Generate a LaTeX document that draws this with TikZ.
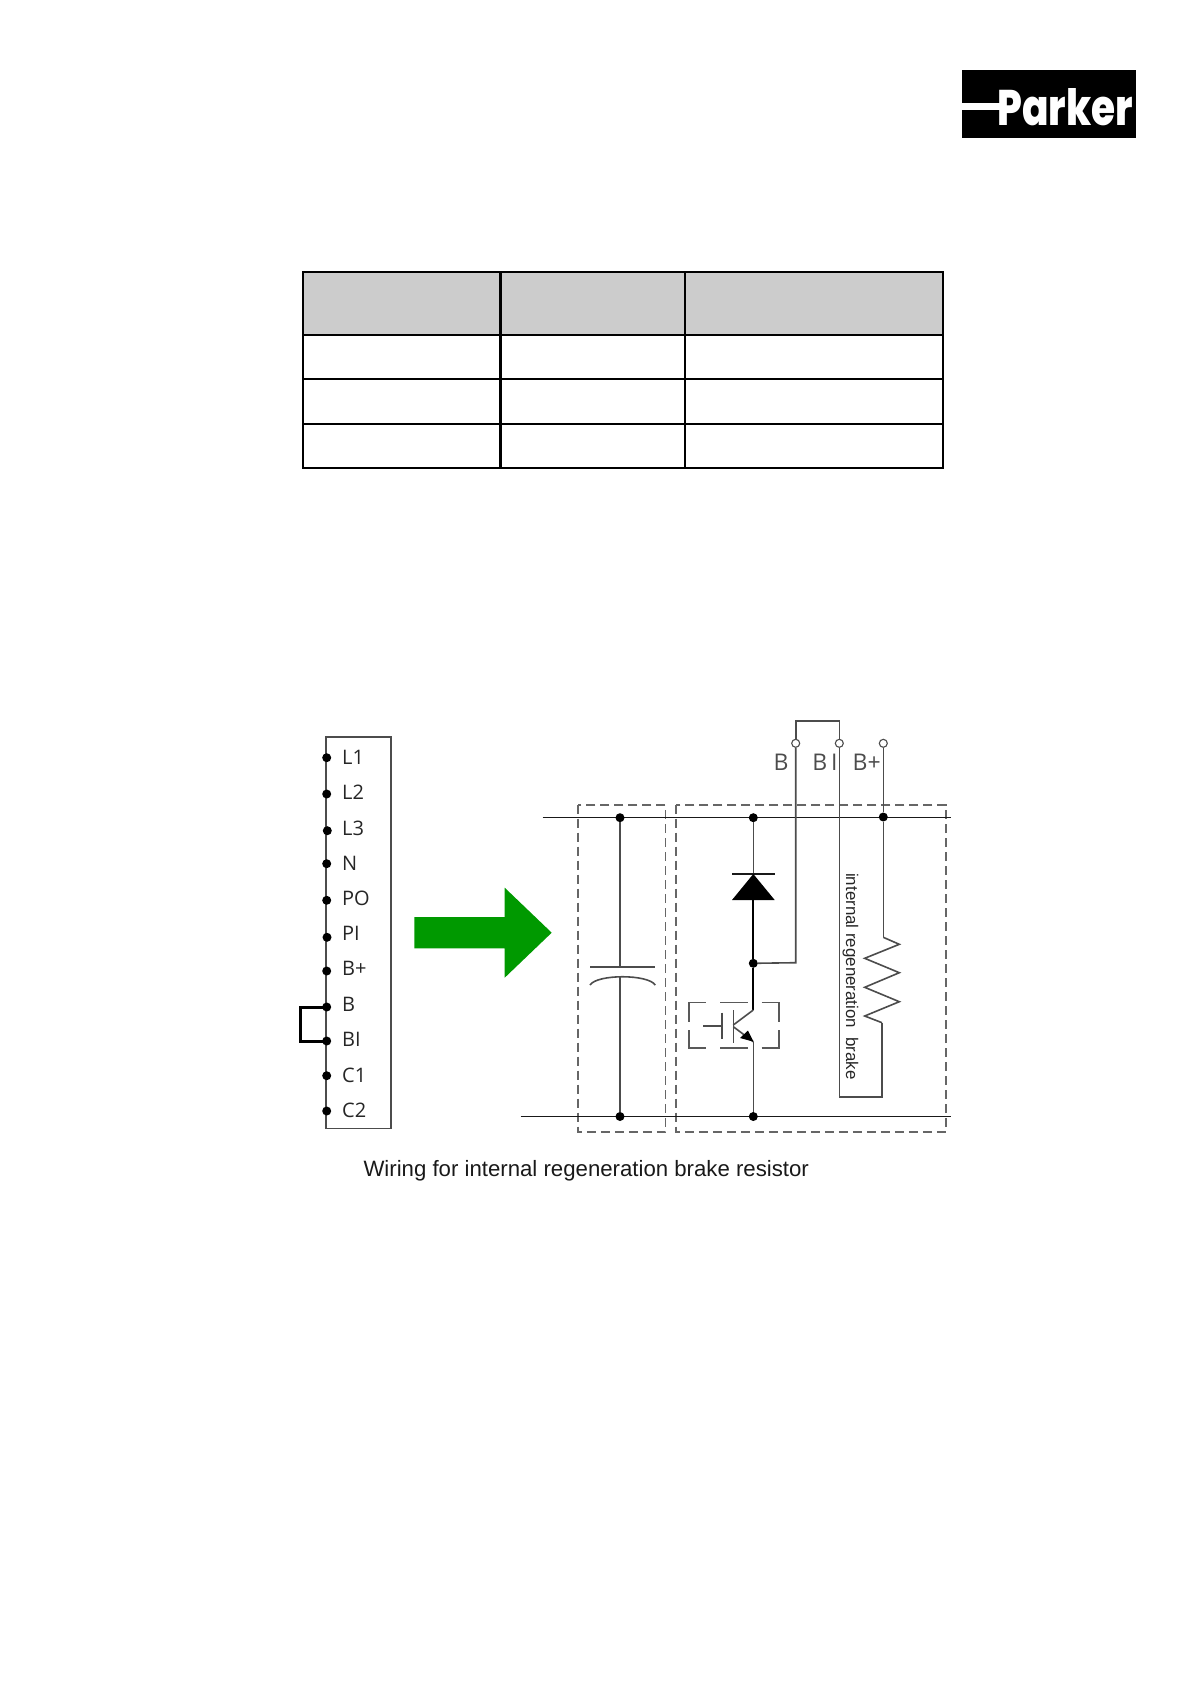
\documentclass[tikz,border=0pt]{standalone}
\usepackage{fontspec}
\setmainfont{Liberation Sans}
\newfontfamily\termfont{Open Sans}
\newfontfamily\logofont{Poppins}[UprightFont=* ExtraBold]
\usetikzlibrary{arrows.meta}

\begin{document}
\begin{tikzpicture}
[x=1pt,y=-1pt,%
  wire/.style={draw=black!90,line width=1.2pt},%
  graywire/.style={draw=black!70,line width=1.6pt},%
  heavywire/.style={draw=black,line width=2pt},%
  dashbox/.style={draw=black!60,line width=1.6pt,dash pattern=on 9pt off 5pt},%
  igbtbox/.style={draw=black!65,line width=1.4pt},%
  cellrule/.style={draw=black,line width=2.2pt},%
  dot/.style={shape=circle,fill=black,inner sep=0pt,minimum size=9pt},%
  opendot/.style={shape=circle,draw=black!70,fill=white,line width=1.1pt,inner sep=0pt,minimum size=8pt},%
  termlabel/.style={anchor=west,inner sep=0pt,text=black!85,font=\termfont\fontsize{20}{20}\selectfont},%
  pinlabel/.style={inner sep=0pt,text=black!70,font=\termfont\fontsize{23}{23}\selectfont}]
\useasboundingbox (0,0) rectangle (1191,1684);

% logo
\fill[black] (961.7,70) rectangle (1135.7,137.7);
\fill[white] (961.7,102.7) rectangle (1005,110);
\node (logotext) at (1065,107) [inner sep=0pt,text=white]
  {\scalebox{.78}[1]{\logofont\fontsize{50}{50}\selectfont Parker}};

% table
\fill[black!20] (302.7,272) rectangle (943,335);
\draw[cellrule] (302.7,272) rectangle (943,468);
\draw[cellrule] (302.7,335) -- (943,335);
\draw[cellrule] (302.7,379) -- (943,379);
\draw[cellrule] (302.7,424) -- (943,424);
\draw[cellrule] (500.5,272) -- (500.5,468);
\draw[cellrule] (684.6,272) -- (684.6,468);

% terminal strip
\draw[graywire] (326.2,736.7) rectangle (391,1128.3);
\node[dot] (L1) at (326.7,757.7) {};
\node[dot] (L2) at (326.7,794) {};
\node[dot] (L3) at (327.3,830.7) {};
\node[dot] (N) at (326.7,863.7) {};
\node[dot] (PO) at (326.7,900.3) {};
\node[dot] (PI) at (327,937.3) {};
\node[dot] (Bp) at (326.7,971) {};
\node[dot] (B) at (326.7,1007) {};
\node[dot] (BI) at (326.7,1041) {};
\node[dot] (C1) at (326.7,1075.7) {};
\node[dot] (C2) at (326.7,1111) {};
\node[termlabel] (tL1) at (342,757) {L1};
\node[termlabel] (tL2) at (342,792.5) {L2};
\node[termlabel] (tL3) at (342,828) {L3};
\node[termlabel] (tN) at (342,863) {N};
\node[termlabel] (tPO) at (342,898) {PO};
\node[termlabel] (tPI) at (342,933.5) {PI};
\node[termlabel] (tBp) at (342,968.5) {B+};
\node[termlabel] (tB) at (342,1004) {B};
\node[termlabel] (tBI) at (342,1039) {BI};
\node[termlabel] (tC1) at (342,1075) {C1};
\node[termlabel] (tC2) at (342,1110) {C2};
\draw[heavywire,line width=3pt] (B.center) -- (300.7,1007) -- (300.7,1041) -- (BI.center);

% green arrow
\fill[green!60!black] (414.3,917) -- (504.7,917) -- (504.7,887.7) -- (551.7,932.7)
  -- (504.7,977.7) -- (504.7,948.3) -- (414.3,948.3) -- cycle;

% dashed groups
\draw[dashbox] (578.2,804.7) rectangle (665.5,1132);
\draw[dashbox] (676.2,804.7) rectangle (946,1132);

% rails
\coordinate (topl) at (542.7,817.7);
\coordinate (topr) at (950.7,817.7);
\coordinate (botl) at (520.7,1116.3);
\coordinate (botr) at (950.7,1116.3);
\draw[wire] (topl) -- (topr);
\draw[wire] (botl) -- (botr);
\node[dot] (captop) at (620,817.7) {};
\node[dot] (capbot) at (620,1116.5) {};
\node[dot] (dtop) at (753.3,817.7) {};
\node[dot] (dbot) at (753.3,1116.5) {};
\node[dot] (dmid) at (753.3,963.3) {};
\node[dot] (rtop) at (883.3,817) {};

% capacitor
\coordinate (plate) at (620,967);
\coordinate (platec) at (620,976.7);
\draw[graywire] (captop) -- (plate);
\draw[graywire] (platec) -- (capbot);
\draw[graywire] (590,967) -- (655.3,967);
\draw[graywire] (590,985) .. controls (597,974) and (648,974) .. (655.3,985);

% diode
\coordinate (dbar) at (753.3,874);
\coordinate (dbase) at (753.3,900);
\draw[graywire] (dtop) -- (dbar);
\draw[wire] (732,874) -- (774.7,874);
\fill[black] (732,900) -- (753.3,874) -- (774.7,900) -- cycle;
\draw[heavywire] (dbase) -- (dmid);

% igbt
\coordinate (coll) at (753.3,1010);
\coordinate (emit) at (753.3,1041.7);
\draw[igbtbox] (689,1021.7) -- (689,1002.3) -- (706,1002.3);
\draw[igbtbox] (720,1002.3) -- (748,1002.3);
\draw[igbtbox] (761.7,1002.3) -- (779,1002.3) -- (779,1021.7);
\draw[igbtbox] (689,1030) -- (689,1048) -- (706,1048);
\draw[igbtbox] (720,1048) -- (748,1048);
\draw[igbtbox] (761.7,1048) -- (779,1048) -- (779,1030);
\draw[heavywire] (dmid) -- (coll);
\draw[graywire] (703.3,1025.7) -- (721.7,1025.7);
\draw[graywire] (721.7,1012.7) -- (721.7,1039.3);
\draw[graywire] (733.3,1010) -- (733.3,1043.3);
\draw[graywire] (733.3,1025) -- (coll);
\draw[graywire] (733.3,1026.7) -- (emit);
\fill[black] (753.5,1041.7) -- (740,1038) -- (748,1030.5) -- cycle;
\draw[graywire] (emit) -- (dbot);

% brake loop and pins
\node[opendot] (pB) at (795.7,743.3) {};
\node[opendot] (pBI) at (839.3,743.3) {};
\node[opendot] (pBp) at (883.3,743.3) {};
\coordinate (loopl) at (795.7,720.7);
\coordinate (loopr) at (839.3,720.7);
\coordinate (tapB) at (795.7,962.7);
\coordinate (loopbl) at (839.3,1096.7);
\coordinate (loopbr) at (882,1096.7);
\coordinate (zigtop) at (883.3,937.3);
\coordinate (zigbot) at (882,1022.7);
\draw[graywire] (pB) -- (loopl) -- (loopr) -- (pBI);
\draw[graywire] (dmid) -- (tapB) -- (pB);
\draw[graywire] (pBI) -- (loopbl) -- (loopbr) -- (zigbot);
\draw[graywire] (pBp) -- (rtop) -- (zigtop);
\draw[graywire] (zigtop) -- (899.3,944.3) -- (864.7,958.3) -- (899.3,972.7) -- (864.7,987.3)
  -- (899.3,1001.7) -- (864.7,1016) -- (zigbot);
\node[pinlabel] (lB) at (781,762) {B};
\node[pinlabel] (lBI) at (825,762) {B\,I};
\node[pinlabel] (lBp) at (866.7,762) {B+};
\node (brake) at (850.5,976.5) [rotate=-90,inner sep=0pt,text=black!85,font=\fontsize{16.9}{16.9}\selectfont] {internal regeneration\ \ brake};

% caption
\node (caption) at (363.3,1176) [anchor=base west,inner sep=0pt,text=black!90,font=\fontsize{22.2}{22.2}\selectfont] {Wiring for internal regeneration brake resistor};
\end{tikzpicture}
\end{document}
